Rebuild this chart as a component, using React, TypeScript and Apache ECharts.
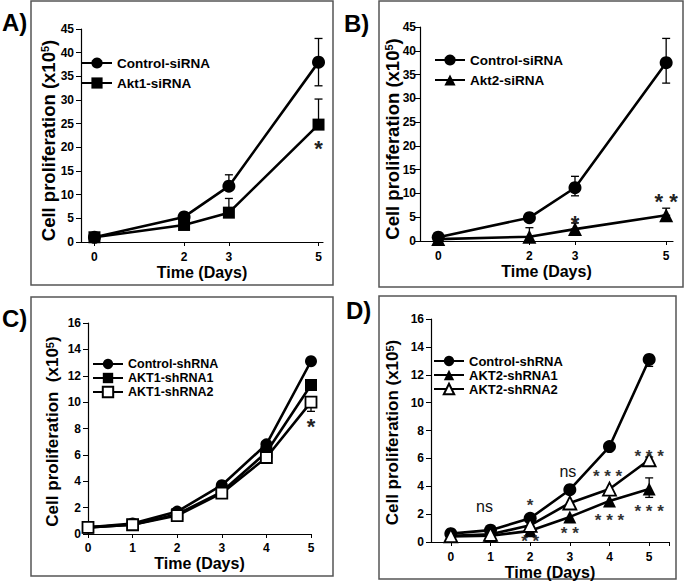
import React, { useEffect, useRef } from "react";
import * as echarts from "echarts";

const FONT = "'Liberation Sans', Arial, Helvetica, sans-serif";

// ---- data ----
const daysAB = [0, 2, 3, 5];
const daysCD = [0, 1, 2, 3, 4, 5];

const ctrlSiA = [1.0, 5.3, 11.8, 38.0];
const akt1Si = [1.0, 3.6, 6.2, 24.8];
const ctrlSiB = [0.8, 4.9, 11.2, 37.5];
const akt2Si = [0.4, 0.9, 2.5, 5.4];

const ctrlShC = [0.5, 0.8, 1.7, 3.7, 6.8, 13.1];
const akt1Sh1 = [0.5, 0.7, 1.5, 3.2, 6.2, 11.3];
const akt1Sh2 = [0.5, 0.7, 1.4, 3.1, 5.8, 10.0];

const ctrlShD = [0.6, 0.85, 1.7, 3.75, 6.85, 13.1];
const akt2Sh1 = [0.4, 0.45, 0.8, 1.8, 2.95, 3.8];
const akt2Sh2 = [0.45, 0.55, 1.2, 2.8, 3.8, 5.9];

// error bars: [day, low, high]
const errA = [[3, 11.8, 14.2], [5, 33.0, 43.0], [3, 6.2, 9.2], [5, 24.8, 30.2]];
const errB = [[3, 9.5, 13.6], [5, 33.2, 42.6], [2, 0.9, 2.8], [3, 2.5, 3.8], [5, 5.4, 6.9]];
const errC = [[5, 9.3, 10.0]];
const errD = [[5, 12.6, 13.1], [5, 3.2, 4.6], [5, 5.6, 6.1]];

// significance marks: [day, level, text]
const annA: [number, number, string][] = [[5, 20.7, "*"]];
const annB: [number, number, string][] = [[3, 4.8, "*"], [5, 9.4, "* *"]];
const annC: [number, number, string][] = [[5, 8.5, "*"]];
const annD: [number, number, string][] = [
  [0.85, 2.5, "ns"], [2, 2.9, "*"], [2, 0.3, "* *"], [2.95, 5.0, "ns"], [3, 0.86, "* *"],
  [3.95, 5.0, "* * *"], [4, 1.8, "* * *"], [5, 6.4, "* * *"], [5, 2.45, "* * *"],
];

const yTicksAB = { min: 0, max: 45, interval: 5 };
const yTicksCD = { min: 0, max: 16, interval: 2 };

function pair(xs: number[], ys: number[]) {
  return xs.map((x, i) => [x, ys[i]]);
}

function xAxis(gi: number, min: number, max: number, labels: number[], ticks: number[], labelMargin: number, nameGap: number) {
  return {
    type: "value", gridIndex: gi, min, max,
    name: "Time (Days)", nameLocation: "middle", nameGap, nameMoveOverlap: false,
    nameTextStyle: { fontFamily: FONT, fontSize: 16, lineHeight: 14, fontWeight: "bold", color: "#000" },
    axisLine: { show: true, onZero: false, lineStyle: { color: "#000", width: 1.2 } },
    axisTick: { show: true, customValues: ticks, length: 4, lineStyle: { color: "#000" } },
    axisLabel: { customValues: labels, fontFamily: FONT, fontSize: 12, fontWeight: "bold", color: "#000", margin: labelMargin },
    splitLine: { show: false },
  };
}

function yAxis(gi: number, t: { min: number; max: number; interval: number }, name: string, nameSize: number, nameGap: number, labelMargin: number, shiftDown: number) {
  return {
    type: "value", gridIndex: gi, min: t.min, max: t.max, interval: t.interval,
    name, nameLocation: "middle", nameGap, nameRotate: 90, nameMoveOverlap: false,
    nameTextStyle: {
      fontFamily: FONT, fontSize: nameSize, fontWeight: "bold", color: "#000",
      padding: [0, shiftDown * 2, 0, 0],
      rich: { sup: { fontFamily: FONT, fontSize: 11, fontWeight: "bold", color: "#000", verticalAlign: "top", lineHeight: nameSize } },
    },
    axisLine: { show: true, onZero: false, lineStyle: { color: "#000", width: 1.2 } },
    axisTick: { show: true, length: 5, lineStyle: { color: "#000" } },
    axisLabel: { fontFamily: FONT, fontSize: 12, fontWeight: "bold", color: "#000", margin: labelMargin },
    splitLine: { show: false },
  };
}

function lineSeries(name: string, gi: number, xs: number[], ys: number[], symbol: string, size: number, open = false) {
  return {
    type: "line", name, xAxisIndex: gi, yAxisIndex: gi, data: pair(xs, ys),
    symbol, symbolSize: size, z: 3,
    lineStyle: { color: "#000", width: 2.6 },
    itemStyle: open ? { color: "#fff", borderColor: "#000", borderWidth: 1.8 } : { color: "#000", borderColor: "#000", borderWidth: 0 },
    emphasis: { disabled: true },
  };
}

function errSeries(gi: number, data: number[][]) {
  return {
    type: "custom", xAxisIndex: gi, yAxisIndex: gi, z: 2, data,
    encode: { x: 0, y: [1, 2] },
    renderItem: (_p: any, api: any) => {
      const x = api.value(0);
      const lo = api.coord([x, api.value(1)]);
      const hi = api.coord([x, api.value(2)]);
      const w = 4;
      const st = { stroke: "#000", lineWidth: 1.3 };
      return {
        type: "group",
        children: [
          { type: "line", shape: { x1: lo[0], y1: lo[1], x2: hi[0], y2: hi[1] }, style: st },
          { type: "line", shape: { x1: hi[0] - w, y1: hi[1], x2: hi[0] + w, y2: hi[1] }, style: st },
          { type: "line", shape: { x1: lo[0] - w, y1: lo[1], x2: lo[0] + w, y2: lo[1] }, style: st },
        ],
      };
    },
  };
}

function annSeries(gi: number, ann: [number, number, string][], starSize: number, color: string) {
  return {
    type: "custom", xAxisIndex: gi, yAxisIndex: gi, z: 4,
    data: ann.map((a) => [a[0], a[1]]),
    renderItem: (p: any, api: any) => {
      const pt = api.coord([api.value(0), api.value(1)]);
      const txt = ann[p.dataIndex][2];
      const isStar = txt.indexOf("*") >= 0;
      return {
        type: "text", x: pt[0], y: pt[1] + (isStar ? starSize * 0.22 : -1),
        style: {
          text: txt, fontFamily: FONT, fontSize: isStar ? starSize : 16,
          lineHeight: isStar ? Math.round(starSize * 0.6) : 16,
          fontWeight: isStar ? "bold" : "normal", fill: isStar ? color : "#111",
          align: "center", verticalAlign: "middle",
        },
      };
    },
  };
}

function legend(names: string[], left: number, top: number, fontSize: number, lineHeight: number, gap: number, ih: number) {
  return {
    data: names, orient: "vertical", left, top, itemWidth: 30, itemHeight: ih, itemGap: gap,
    selectedMode: false,
    textStyle: { fontFamily: FONT, fontSize, fontWeight: "bold", color: "#000", lineHeight },
  };
}

function border(x: number, y: number, w: number, h: number) {
  return { type: "rect", shape: { x, y, width: w, height: h }, style: { fill: "none", stroke: "#555", lineWidth: 1.5 }, silent: true };
}

function letter(t: string, x: number, y: number) {
  return { type: "text", x, y, style: { text: t, fontFamily: FONT, fontSize: 24, fontWeight: "bold", fill: "#000", align: "left", verticalAlign: "middle" } };
}

export default function App() {
  const ref = useRef<HTMLDivElement>(null);
  useEffect(() => {
    if (!ref.current) return;
    const chart = echarts.init(ref.current, null, { renderer: "svg" });
    const yName = "Cell proliferation (x10{sup|5})";
    const yNameC = "Cell proliferation  (x10{sup|5})";
    const option: any = {
      animation: false,
      backgroundColor: "#fff",
      grid: [
        { left: 81, top: 29, width: 242, height: 213, outerBoundsMode: "none" },
        { left: 420, top: 27, width: 253, height: 214, outerBoundsMode: "none" },
        { left: 88, top: 323, width: 223, height: 211, outerBoundsMode: "none" },
        { left: 431, top: 319, width: 238, height: 223, outerBoundsMode: "none" },
      ],
      xAxis: [
        xAxis(0, -0.3, 5.1, daysAB, daysAB, 9, 23),
        xAxis(1, -0.4, 5.15, daysAB, daysAB, 9, 23),
        xAxis(2, 0, 5, daysCD, daysCD, 8, 22),
        xAxis(3, -0.5, 5.5, daysCD, [...daysCD, 5.5], 9, 23),
      ],
      yAxis: [
        yAxis(0, yTicksAB, yName, 18.5, 23, 7, 5),
        yAxis(1, yTicksAB, yName, 18.5, 18, 4, 5),
        yAxis(2, yTicksCD, yNameC, 17, 27, 7, 3),
        yAxis(3, yTicksCD, yName, 17, 30, 7, 2),
      ],
      legend: [
        legend(["Control-siRNA", "Akt1-siRNA"], 76, 50, 13.5, 16, 4, 14),
        legend(["Control-siRNA", "Akt2-siRNA"], 429, 47, 13.5, 16, 4, 14),
        legend(["Control-shRNA", "AKT1-shRNA1", "AKT1-shRNA2"], 87, 352, 12.5, 14, 0, 13),
        legend(["Control-shRNA", "AKT2-shRNA1", "AKT2-shRNA2"], 428, 349, 13, 14, 0, 13),
      ],
      series: [
        errSeries(0, errA),
        lineSeries("Control-siRNA", 0, daysAB, ctrlSiA, "circle", 13),
        lineSeries("Akt1-siRNA", 0, daysAB, akt1Si, "rect", 12),
        annSeries(0, annA, 22, "#222"),

        errSeries(1, errB),
        lineSeries("Control-siRNA", 1, daysAB, ctrlSiB, "circle", 13),
        lineSeries("Akt2-siRNA", 1, daysAB, akt2Si, "triangle", 14),
        annSeries(1, annB, 22, "#222"),

        errSeries(2, errC),
        lineSeries("Control-shRNA", 2, daysCD, ctrlShC, "circle", 12),
        lineSeries("AKT1-shRNA1", 2, daysCD, akt1Sh1, "rect", 12),
        lineSeries("AKT1-shRNA2", 2, daysCD, akt1Sh2, "rect", 11, true),
        annSeries(2, annC, 22, "#222"),

        errSeries(3, errD),
        lineSeries("Control-shRNA", 3, daysCD, ctrlShD, "circle", 13),
        lineSeries("AKT2-shRNA1", 3, daysCD, akt2Sh1, "triangle", 13),
        lineSeries("AKT2-shRNA2", 3, daysCD, akt2Sh2, "triangle", 13, true),
        annSeries(3, annD, 17, "#333"),
      ],
      graphic: [
        border(31, 1, 302, 284),
        border(379, 1, 304, 286),
        border(31, 297, 302, 279),
        border(379, 296, 297, 283),
        letter("A)", 2, 22),
        letter("B)", 344, 23),
        letter("C)", 2, 318),
        letter("D)", 346, 310),
      ],
    };
    chart.setOption(option);
    return () => chart.dispose();
  }, []);
  return <div ref={ref} style={{ position: "absolute", left: 0, top: 0, width: 685, height: 584 }} />;
}
